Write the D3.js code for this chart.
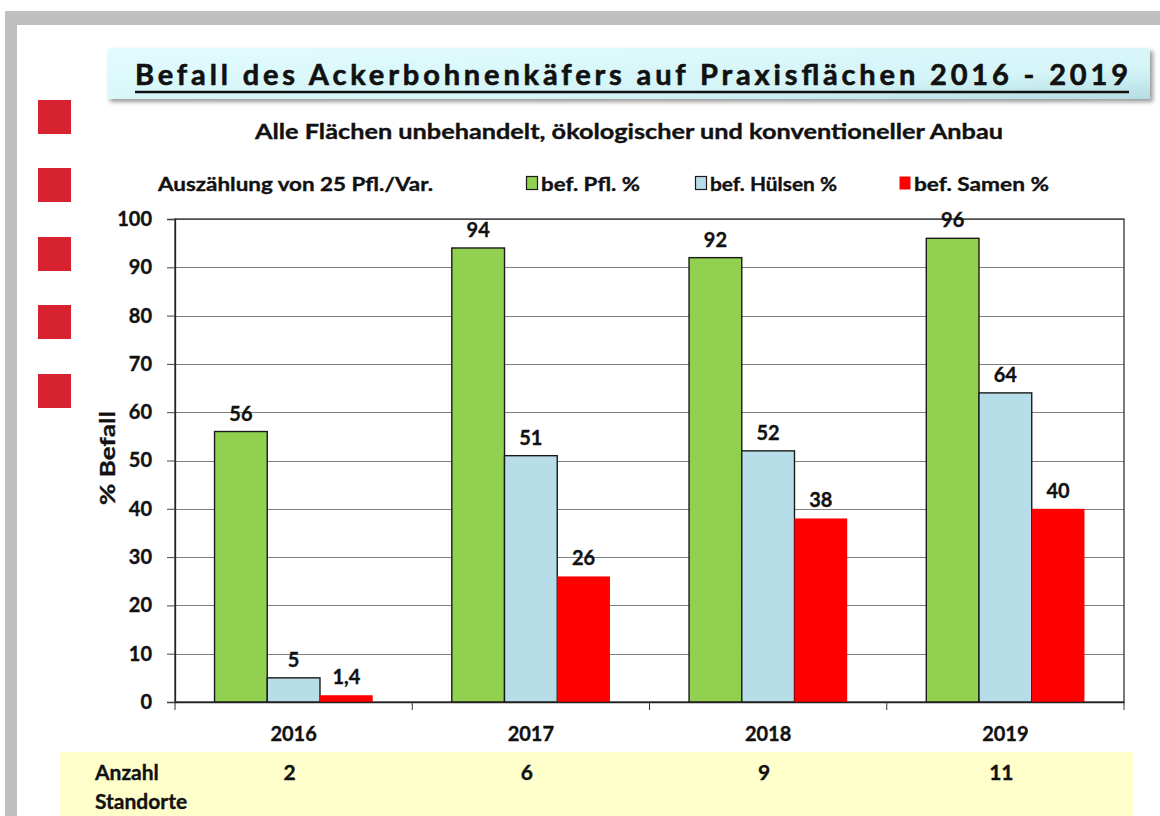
<!DOCTYPE html>
<html>
<head>
<meta charset="utf-8">
<script src="https://cdn.jsdelivr.net/npm/d3@7"></script>
<style>
  html, body { margin: 0; padding: 0; background: #fff; }
  svg { display: block; font-family: Lato, "Open Sans", sans-serif; }
</style>
</head>
<body>
<svg id="chart" width="1160" height="816"></svg>
<script>
'use strict';

const years = ['2016', '2017', '2018', '2019'];
const seriesNames = ['bef. Pfl. %', 'bef. Hülsen %', 'bef. Samen %'];
const pflanzen = [56, 94, 92, 96];
const huelsen = [5, 51, 52, 64];
const samen = [1.4, 26, 38, 40];
const standorte = [2, 6, 9, 11];
const yTicks = [0, 10, 20, 30, 40, 50, 60, 70, 80, 90, 100];

(function () {
    const svg = d3.select('#chart');
    const colors = ['#92d050', '#b7dee8', '#ff0000'];
    const strokes = ['#1a1a1a', '#1a1a1a', 'none'];
    const series = [pflanzen, huelsen, samen];
    const de = d3.formatLocale({ decimal: ',', thousands: '.', grouping: [3], currency: ['', ' €'] });
    const fmt = v => (Number.isInteger(v) ? de.format('d')(v) : de.format('.1f')(v));
    const ink = '#111';

    const plot = { left: 175, right: 1124, top: 219, bottom: 702 };

    // bold text helper, a thin stroke makes Lato look closer to Calibri bold
    function boldText(sel, size) {
        return sel.attr('font-size', size).attr('font-weight', 'bold').attr('fill', ink)
            .attr('stroke', ink).attr('stroke-width', 0.35);
    }

    // grey frame
    svg.append('rect').attr('x', 5).attr('y', 11).attr('width', 1155).attr('height', 14).attr('fill', '#bfbfbf');
    svg.append('rect').attr('x', 5).attr('y', 11).attr('width', 12).attr('height', 805).attr('fill', '#bfbfbf');

    // red squares on the left
    [100, 168, 237, 305, 374].forEach(y => {
        svg.append('rect').attr('x', 38).attr('y', y).attr('width', 33).attr('height', 34).attr('fill', '#d6232f');
    });

    // title box
    const defs = svg.append('defs');
    const grad = defs.append('linearGradient').attr('id', 'title-grad')
        .attr('x1', '0%').attr('y1', '0%').attr('x2', '100%').attr('y2', '100%');
    grad.append('stop').attr('offset', '0%').attr('stop-color', '#e2fcfe');
    grad.append('stop').attr('offset', '70%').attr('stop-color', '#d4f4f7');
    grad.append('stop').attr('offset', '100%').attr('stop-color', '#b4dde2');
    const blur = defs.append('filter').attr('id', 'shadow').attr('x', '-5%').attr('y', '-20%')
        .attr('width', '110%').attr('height', '150%');
    blur.append('feGaussianBlur').attr('stdDeviation', 2);

    svg.append('rect').attr('x', 110).attr('y', 51).attr('width', 1043).attr('height', 51)
        .attr('fill', '#9a9a9a').attr('filter', 'url(#shadow)');
    svg.append('rect').attr('x', 108).attr('y', 48).attr('width', 1042).attr('height', 51)
        .attr('fill', 'url(#title-grad)');
    boldText(svg.append('text'), 29).attr('x', 135).attr('y', 85)
        .attr('stroke-width', 0.6)
        .attr('textLength', 993).attr('lengthAdjust', 'spacing')
        .text('Befall des Ackerbohnenkäfers auf Praxisflächen 2016 - 2019');
    svg.append('line').attr('x1', 135).attr('x2', 1129).attr('y1', 92).attr('y2', 92)
        .attr('stroke', ink).attr('stroke-width', 2.5);

    boldText(svg.append('text'), 20).attr('x', 629).attr('y', 139).attr('text-anchor', 'middle')
        .attr('textLength', 748).attr('lengthAdjust', 'spacingAndGlyphs')
        .text('Alle Flächen unbehandelt, ökologischer und konventioneller Anbau');

    boldText(svg.append('text'), 19).attr('x', 158).attr('y', 191)
        .attr('textLength', 275).attr('lengthAdjust', 'spacingAndGlyphs')
        .text('Auszählung von 25 Pfl./Var.');

    // legend
    const legendX = [526, 695, 899];
    const legendW = [99, 127, 135];
    const legend = svg.append('g').selectAll('g').data(seriesNames).enter().append('g')
        .attr('transform', (d, i) => 'translate(' + legendX[i] + ',176)');
    legend.append('rect').attr('x', 0.5).attr('y', 0.5).attr('width', 11).attr('height', 13)
        .attr('fill', (d, i) => colors[i]).attr('stroke', (d, i) => strokes[i]).attr('stroke-width', 1.2);
    boldText(legend.append('text'), 19).attr('x', 15).attr('y', 15)
        .attr('textLength', (d, i) => legendW[i]).attr('lengthAdjust', 'spacingAndGlyphs')
        .text(d => d);

    // scales
    const x = d3.scaleBand().domain(years).range([plot.left, plot.right]);
    const inner = d3.scaleBand().domain(d3.range(3)).range([0, x.bandwidth()]).paddingInner(0).paddingOuter(0.75);
    const y = d3.scaleLinear().domain([0, 100]).range([plot.bottom, plot.top]);

    // gridlines
    svg.append('g').selectAll('line').data(yTicks.filter(t => t > 0)).enter().append('line')
        .attr('x1', plot.left).attr('x2', plot.right)
        .attr('y1', d => Math.round(y(d)) + 0.5).attr('y2', d => Math.round(y(d)) + 0.5)
        .attr('stroke', '#7f7f7f').attr('stroke-width', 1.2);

    // plot border
    svg.append('rect').attr('x', plot.left).attr('y', plot.top)
        .attr('width', plot.right - plot.left).attr('height', plot.bottom - plot.top)
        .attr('fill', 'none').attr('stroke', '#333').attr('stroke-width', 1.3);

    // bars
    const groups = svg.append('g').selectAll('g').data(years).enter().append('g')
        .attr('transform', d => 'translate(' + x(d) + ',0)');
    const cells = (d, i) => series.map((s, k) => ({ k: k, v: s[i] }));
    groups.selectAll('rect').data(cells).enter().append('rect')
        .attr('x', d => inner(d.k))
        .attr('y', d => y(d.v))
        .attr('width', inner.bandwidth())
        .attr('height', d => y(0) - y(d.v))
        .attr('fill', d => colors[d.k])
        .attr('stroke', d => strokes[d.k])
        .attr('stroke-width', 1.4);
    boldText(groups.selectAll('text').data(cells).enter().append('text'), 20)
        .attr('x', d => inner(d.k) + inner.bandwidth() / 2)
        .attr('y', d => y(d.v) - 11)
        .attr('text-anchor', 'middle')
        .text(d => fmt(d.v));

    // y axis
    const yAxis = svg.append('g').attr('transform', 'translate(' + plot.left + ',0)')
        .call(d3.axisLeft(y).tickValues(yTicks).tickSize(8).tickPadding(15).tickFormat(d3.format('d')));
    yAxis.select('.domain').attr('stroke', '#222').attr('stroke-width', 1.3);
    yAxis.selectAll('.tick line').attr('stroke', '#444');
    boldText(yAxis.selectAll('text'), 20).attr('font-family', 'Lato, sans-serif');

    // x axis
    const xAxis = svg.append('g').attr('transform', 'translate(0,' + plot.bottom + ')')
        .call(d3.axisBottom(x).tickSize(0).tickPadding(25));
    xAxis.select('.domain').attr('stroke', '#222').attr('stroke-width', 1.3);
    boldText(xAxis.selectAll('text'), 20).attr('font-family', 'Lato, sans-serif');
    svg.append('g').selectAll('line').data(x.domain().concat(['end'])).enter().append('line')
        .attr('x1', (d, i) => plot.left + i * x.step()).attr('x2', (d, i) => plot.left + i * x.step())
        .attr('y1', plot.bottom).attr('y2', plot.bottom + 8)
        .attr('stroke', '#333');

    // y title
    boldText(svg.append('text'), 21).attr('transform', 'translate(115,458) rotate(-90)')
        .attr('text-anchor', 'middle').attr('textLength', 94).attr('lengthAdjust', 'spacingAndGlyphs')
        .text('% Befall');

    // table band
    svg.append('rect').attr('x', 60).attr('y', 752).attr('width', 1073).attr('height', 64).attr('fill', '#ffffcc');
    boldText(svg.append('text'), 21).attr('x', 95).attr('y', 780).text('Anzahl');
    boldText(svg.append('text'), 21).attr('x', 95).attr('y', 809).text('Standorte');
    boldText(svg.append('g').selectAll('text').data(standorte).enter().append('text'), 21)
        .attr('x', (d, i) => x(years[i]) + x.bandwidth() / 2 - 4)
        .attr('y', 780).attr('text-anchor', 'middle')
        .text(d => d);
}());
</script>
</body>
</html>
